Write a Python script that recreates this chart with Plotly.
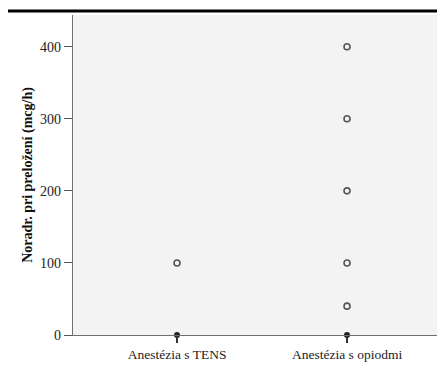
import plotly.graph_objects as go

categories = ["Anestézia s TENS", "Anestézia s opiodmi"]
medians = [0, 0]
tens_outliers = [100]
opioid_outliers = [400, 300, 200, 100, 40]
y_ticks = [0, 100, 200, 300, 400]
y_title = "Noradr. pri preložení (mcg/h)"

fig = go.Figure()

# outliers
fig.add_trace(go.Scatter(
    x=[0] * len(tens_outliers) + [1] * len(opioid_outliers),
    y=tens_outliers + opioid_outliers,
    mode="markers",
    marker=dict(symbol="circle-open", size=6, color="#555555", line=dict(width=1.6)),
    showlegend=False, hoverinfo="y"))

# collapsed boxes (median at 0)
fig.add_trace(go.Scatter(
    x=[0, 1], y=medians, mode="markers",
    marker=dict(symbol="circle", size=6, color="#222222"),
    showlegend=False, cliponaxis=False))

fig.add_shape(type="line", xref="paper", yref="paper", x0=-0.18, x1=1.03, y0=1.0124, y1=1.0124,
              line=dict(color="black", width=3))

font_family = "Liberation Serif, Times New Roman, serif"

fig.update_layout(
    width=437, height=359,
    margin=dict(l=65, r=5, t=7, b=22),
    paper_bgcolor="white",
    plot_bgcolor="#f3f3f3",
    font=dict(family=font_family, size=14, color="#222222"),
    xaxis=dict(range=[-0.612, 1.547], tickvals=[0, 1], ticktext=categories,
               showgrid=False, zeroline=False, showline=True, linecolor="#707070", linewidth=1.2,
               ticks="outside", ticklen=7, tickcolor="#333333", tickwidth=1.5,
               tickfont=dict(size=13.5, color="#222222"), mirror=False),
    yaxis=dict(range=[0, 444], tickvals=y_ticks, showgrid=False, zeroline=False,
               showline=True, linecolor="#707070", linewidth=1.2,
               ticks="outside", ticklen=8, tickcolor="#555555",
               tickfont=dict(size=14, color="#222222"),
               title=dict(text="<b>" + y_title + "</b>", font=dict(size=14, color="#111111"), standoff=4)),
)

fig.write_html("out.html")
